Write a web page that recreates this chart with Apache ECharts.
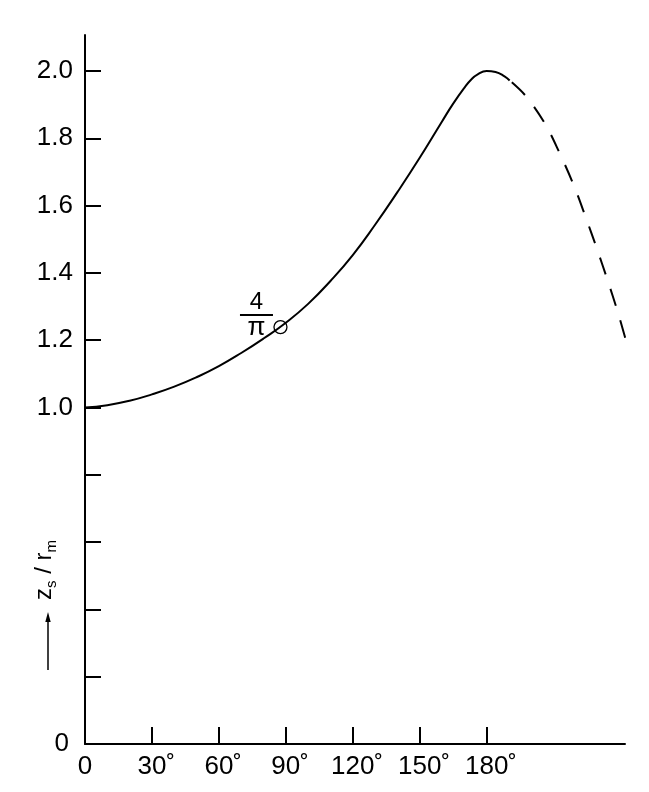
<!DOCTYPE html>
<html><head><meta charset="utf-8">
<script src="https://cdn.jsdelivr.net/npm/echarts@6/dist/echarts.min.js"></script>
<style>html,body{margin:0;padding:0;background:#fff}#c{width:649px;height:792px}</style>
</head><body><div id="c"></div>
<script>
// Solid part of the curve (angle in degrees, z_s / r_m)
const solidAngles = [0, 10, 20, 30, 40, 50, 60, 70, 80, 90, 100, 110, 120, 130, 140, 150, 160, 165, 170, 173, 176, 180, 184, 188, 190.3];
const solidValues = [1.000, 1.007, 1.020, 1.039, 1.062, 1.090, 1.123, 1.162, 1.205, 1.252, 1.308, 1.376, 1.453, 1.543, 1.640, 1.742, 1.850, 1.903, 1.950, 1.974, 1.990, 2.000, 1.997, 1.984, 1.972];
// Dashed continuation
const dashedAngles = [190.3, 197.5, 206, 212.7, 219, 224.3, 229.3, 234, 238.7, 242.4];
const dashedValues = [1.972, 1.926, 1.845, 1.756, 1.661, 1.567, 1.474, 1.382, 1.285, 1.200];
// Axis ticks and labels
const xTicks = [0, 30, 60, 90, 120, 150, 180];
const yTicks = [0, 0.2, 0.4, 0.6, 0.8, 1.0, 1.2, 1.4, 1.6, 1.8, 2.0];
const yLabels = [0, 1.0, 1.2, 1.4, 1.6, 1.8, 2.0];
// Marked point (4/pi)
const markAngle = 87.6;
const markValue = 1.239;

const FONT = "'Liberation Sans', Arial, Helvetica, sans-serif";
const zip = (a, b) => a.map((v, i) => [v, b[i]]);

const chart = echarts.init(document.getElementById('c'), null, {renderer: 'canvas'});
chart.setOption({
  animation: false,
  backgroundColor: '#fff',
  grid: {left: 85, right: 24, top: 35, bottom: 48, containLabel: false, outerBoundsMode: 'none'},
  xAxis: {
    type: 'value', min: 0, max: 242,
    axisLine: {show: true, onZero: false, lineStyle: {color: '#000', width: 2}},
    axisTick: {show: true, inside: true, length: 17, customValues: xTicks, lineStyle: {color: '#000', width: 2}},
    splitLine: {show: false},
    axisLabel: {
      show: true, customValues: xTicks, margin: 10, color: '#000',
      fontFamily: FONT, fontSize: 26,
      formatter: v => v === 0 ? '{t|0}' : '{s|˚}{t|' + v + '}{t|˚}',
      rich: {
        t: {fontFamily: FONT, fontSize: 26, color: '#000'},
        s: {fontFamily: FONT, fontSize: 26, color: 'rgba(0,0,0,0)'}
      }
    }
  },
  yAxis: {
    type: 'value', min: 0, max: 2.107,
    axisLine: {show: true, onZero: false, lineStyle: {color: '#000', width: 2}},
    axisTick: {show: true, inside: true, length: 16, customValues: yTicks, lineStyle: {color: '#000', width: 2}},
    splitLine: {show: false},
    axisLabel: {
      show: true, customValues: yLabels, margin: 12, color: '#000',
      fontFamily: FONT, fontSize: 26,
      formatter: v => v === 0 ? '{z|0}' : '{t|' + v.toFixed(1) + '}',
      rich: {
        t: {fontFamily: FONT, fontSize: 26, color: '#000'},
        z: {fontFamily: FONT, fontSize: 26, color: '#000', padding: [0, 4, 0, 0]}
      }
    }
  },
  series: [
    {
      type: 'line', data: zip(solidAngles, solidValues), smooth: 0.5,
      showSymbol: false, symbol: 'none', clip: false,
      lineStyle: {color: '#000', width: 2}
    },
    {
      type: 'line', data: zip(dashedAngles, dashedValues), smooth: 0.35,
      showSymbol: false, symbol: 'none', clip: false,
      lineStyle: {color: '#000', width: 2, type: [18, 15], dashOffset: 30}
    },
    {
      type: 'scatter', data: [[markAngle, markValue]], symbol: 'circle', symbolSize: 13,
      itemStyle: {color: 'rgba(0,0,0,0)', borderColor: '#000', borderWidth: 1.3, opacity: 1},
      label: {
        show: true, position: 'inside', offset: [-24, -12], align: 'center', verticalAlign: 'middle',
        color: '#000', opacity: 1,
        formatter: '{n|4}\n{bar|}\n{p|π}',
        rich: {
          n: {fontFamily: FONT, fontSize: 24, lineHeight: 22, color: '#000', align: 'center'},
          bar: {width: 33, height: 2, lineHeight: 4, backgroundColor: '#000', align: 'center'},
          p: {fontFamily: FONT, fontSize: 26, lineHeight: 22, color: '#000', align: 'center'}
        }
      },
      emphasis: {disabled: true},
      z: 5
    }
  ],
  graphic: [
    {
      type: 'text', x: 44.7, y: 570, rotation: Math.PI / 2,
      style: {
        text: '{a|z}{b|s}{a| / r}{b|m}',
        align: 'center', verticalAlign: 'middle',
        rich: {
          a: {fontFamily: FONT, fontSize: 24, lineHeight: 30, fill: '#000', color: '#000'},
          b: {fontFamily: FONT, fontSize: 15, lineHeight: 15, verticalAlign: 'bottom', fill: '#000', color: '#000'}
        }
      }
    },
    {
      type: 'line', shape: {x1: 48, y1: 670, x2: 48, y2: 620},
      style: {stroke: '#000', lineWidth: 1.5}
    },
    {
      type: 'polygon', shape: {points: [[48, 612], [45.3, 622], [50.7, 622]]},
      style: {fill: '#000'}
    }
  ]
});
</script>
</body></html>
